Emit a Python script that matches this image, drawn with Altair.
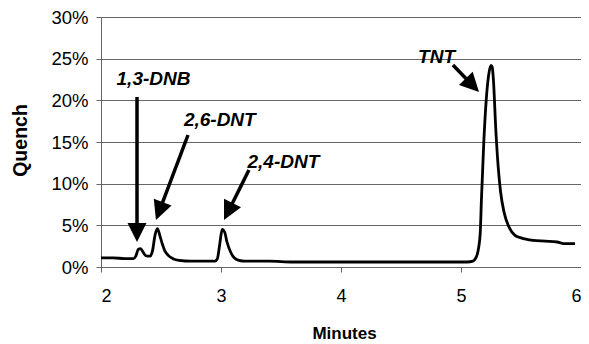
import math
import altair as alt
import pandas as pd

# ---- chromatogram trace (minutes, quench %) ----
minutes = [2.00, 2.10, 2.20, 2.27, 2.29, 2.31, 2.33, 2.35, 2.37, 2.39, 2.41, 2.43,
           2.45, 2.47, 2.49, 2.51, 2.53, 2.56, 2.60, 2.65, 2.75, 2.85, 2.95, 2.97,
           2.99, 3.01, 3.03, 3.05, 3.08, 3.11, 3.15, 3.20, 3.40, 3.60, 3.80, 4.00,
           4.30, 4.60, 4.90, 5.05, 5.10, 5.12, 5.14, 5.16, 5.17, 5.19, 5.21, 5.23,
           5.25, 5.26, 5.27, 5.29, 5.31, 5.33, 5.36, 5.40, 5.45, 5.50, 5.60, 5.70,
           5.80, 5.87, 5.95]
quench = [1.1, 1.1, 1.0, 1.0, 1.3, 2.1, 2.2, 1.8, 1.4, 1.3, 1.3, 2.0,
          3.8, 4.6, 3.8, 2.8, 2.0, 1.4, 1.0, 0.8, 0.7, 0.7, 0.7, 1.0,
          2.8, 4.5, 4.2, 3.0, 1.8, 1.1, 0.8, 0.7, 0.7, 0.6, 0.6, 0.6,
          0.6, 0.6, 0.6, 0.6, 0.7, 1.0, 1.8, 4.0, 8.0, 15.0, 20.0, 23.0,
          24.2, 24.0, 22.5, 16.5, 12.0, 9.0, 6.5, 4.8, 3.8, 3.5, 3.2, 3.1,
          3.0, 2.8, 2.8]

# ---- annotations ----
labels = ["1,3-DNB", "2,6-DNT", "2,4-DNT", "TNT"]
label_x = [2.4375, 2.99, 3.52, 4.796]
label_y = [21.84, 16.9, 11.9, 24.5]
tail_x = [2.30, 2.725, 3.233, 4.933]
tail_y = [20.4, 15.84, 11.64, 24.24]
tip_x = [2.30, 2.458, 3.025, 5.15]
tip_y = [3.0, 5.64, 5.64, 21.0]

x_ticks = [2, 3, 4, 5, 6]
y_ticks = [0, 5, 10, 15, 20, 25, 30]

W, H = 480, 250
PX_X = W / (6 - 2)      # px per minute
PX_Y = H / 30           # px per percent
HEAD = 19               # arrowhead size in px

rows = []
for lab, tx, ty, hx, hy in zip(labels, tail_x, tail_y, tip_x, tip_y):
    dxp = (hx - tx) * PX_X
    dyp = -(hy - ty) * PX_Y
    L = math.hypot(dxp, dyp)
    ux, uy = dxp / L, dyp / L
    cx = hx - (HEAD / 2) * ux / PX_X
    cy = hy + (HEAD / 2) * uy / PX_Y
    ang = math.degrees(math.atan2(ux, -uy)) % 360
    rows.append(dict(label=lab, tx=tx, ty=ty, cx=cx, cy=cy, ang=ang))
arrows = pd.DataFrame(rows)
texts = pd.DataFrame(dict(label=labels, x=label_x, y=label_y))
trace = pd.DataFrame(dict(minutes=minutes, quench=quench))

FONT = "Liberation Sans"
xs = alt.Scale(domain=[2, 6], nice=False, zero=False)
ys = alt.Scale(domain=[0, 30], nice=False)

line = alt.Chart(trace).mark_line(color="black", strokeWidth=2.8, interpolate="monotone").encode(
    x=alt.X("minutes:Q", scale=xs, axis=alt.Axis(
        title="Minutes", values=x_ticks, format="d", grid=False,
        labelFontSize=18, labelFont=FONT, labelColor="black", labelPadding=15,
        tickSize=5, tickColor="#666", domainColor="#666",
        titleFontSize=17, titleFont=FONT, titleFontWeight="bold", titleColor="black",
        titleBaseline="alphabetic", titleY=71, titleX=W / 2 + 3)),
    y=alt.Y("quench:Q", scale=ys, axis=alt.Axis(
        title="Quench", values=y_ticks, labelExpr="datum.value + '%'",
        labelFontSize=18.5, labelFont=FONT, labelColor="black", labelPadding=8,
        tickSize=5, tickColor="#666", domainColor="#666",
        grid=True, gridColor="#666", gridWidth=1,
        titleFontSize=19.5, titleFont=FONT, titleFontWeight="bold", titleColor="black",
        titleAngle=-90, titleX=-81, titleY=H / 2 - 2, titleAlign="center", titleBaseline="middle")),
)

shafts = alt.Chart(arrows).mark_rule(color="black", strokeWidth=3.5).encode(
    x="tx:Q", y="ty:Q", x2="cx:Q", y2="cy:Q")

heads = alt.Chart(arrows).mark_point(
    shape="M0,-1L1,1L-1,1Z", filled=True, color="black", opacity=1, size=HEAD * HEAD
).encode(x="cx:Q", y="cy:Q", angle=alt.Angle("ang:Q", scale=None))

text = alt.Chart(texts).mark_text(
    font=FONT, fontSize=19, fontWeight="bold", fontStyle="italic", color="black",
    align="center", baseline="alphabetic"
).encode(x="x:Q", y="y:Q", text="label:N")

chart = alt.layer(line, shafts, heads, text).properties(
    width=W, height=H,
    autosize=alt.AutoSizeParams(type="none"),
    padding={"left": 93, "top": 9, "right": 0, "bottom": 77},
).configure_view(stroke="#666", strokeWidth=1).configure(background="white")

chart.save("out.html", embed_options={"renderer": "svg", "actions": False})
